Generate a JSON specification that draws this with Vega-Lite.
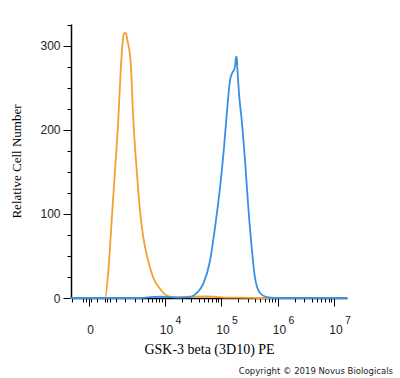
{
  "$schema": "https://vega.github.io/schema/vega-lite/v6.json",
  "autosize": {"type": "none"},
  "padding": {"left": 71, "top": 24, "right": 53, "bottom": 80},
  "width": 276,
  "height": 274,
  "background": "white",
  "title": {
    "text": "Copyright © 2019 Novus Biologicals",
    "orient": "bottom",
    "anchor": "end",
    "frame": "group",
    "dx": 46,
    "offset": 11,
    "font": "DejaVu Sans",
    "fontSize": 8.5,
    "fontWeight": "normal",
    "color": "#222222"
  },
  "config": {
    "view": {"stroke": null},
    "axis": {
      "domainColor": "#000000",
      "tickColor": "#000000",
      "labelColor": "#222222",
      "titleColor": "#000000",
      "grid": false,
      "labelFont": "Liberation Sans",
      "labelFontSize": 12,
      "titleFont": "Liberation Serif",
      "titleFontWeight": "normal"
    }
  },
  "data": {
    "values": [
      {"sample": "control", "pos": 2.327, "count": 0},
      {"sample": "control", "pos": 2.858, "count": 0},
      {"sample": "control", "pos": 2.947, "count": 0},
      {"sample": "control", "pos": 3.005, "count": 32},
      {"sample": "control", "pos": 3.065, "count": 92},
      {"sample": "control", "pos": 3.124, "count": 152},
      {"sample": "control", "pos": 3.182, "count": 212},
      {"sample": "control", "pos": 3.225, "count": 271},
      {"sample": "control", "pos": 3.26, "count": 305},
      {"sample": "control", "pos": 3.283, "count": 315},
      {"sample": "control", "pos": 3.319, "count": 315},
      {"sample": "control", "pos": 3.342, "count": 307},
      {"sample": "control", "pos": 3.402, "count": 280},
      {"sample": "control", "pos": 3.448, "count": 212},
      {"sample": "control", "pos": 3.508, "count": 152},
      {"sample": "control", "pos": 3.566, "count": 104},
      {"sample": "control", "pos": 3.625, "count": 72},
      {"sample": "control", "pos": 3.713, "count": 44},
      {"sample": "control", "pos": 3.802, "count": 24},
      {"sample": "control", "pos": 3.92, "count": 11},
      {"sample": "control", "pos": 4.039, "count": 3},
      {"sample": "control", "pos": 4.186, "count": 1},
      {"sample": "control", "pos": 4.451, "count": 1.5},
      {"sample": "control", "pos": 4.717, "count": 2},
      {"sample": "control", "pos": 4.894, "count": 1.5},
      {"sample": "control", "pos": 5.071, "count": 0.5},
      {"sample": "control", "pos": 5.336, "count": 0.5},
      {"sample": "control", "pos": 5.779, "count": 0},
      {"sample": "control", "pos": 7.23, "count": 0},
      {"sample": "stained", "pos": 2.327, "count": 0},
      {"sample": "stained", "pos": 3.566, "count": 0},
      {"sample": "stained", "pos": 3.743, "count": 1},
      {"sample": "stained", "pos": 3.92, "count": 1.5},
      {"sample": "stained", "pos": 4.097, "count": 1},
      {"sample": "stained", "pos": 4.274, "count": 0.5},
      {"sample": "stained", "pos": 4.451, "count": 1},
      {"sample": "stained", "pos": 4.57, "count": 6},
      {"sample": "stained", "pos": 4.687, "count": 17},
      {"sample": "stained", "pos": 4.805, "count": 44},
      {"sample": "stained", "pos": 4.894, "count": 84},
      {"sample": "stained", "pos": 4.982, "count": 131},
      {"sample": "stained", "pos": 5.053, "count": 179},
      {"sample": "stained", "pos": 5.112, "count": 227},
      {"sample": "stained", "pos": 5.159, "count": 259},
      {"sample": "stained", "pos": 5.2, "count": 268},
      {"sample": "stained", "pos": 5.235, "count": 272},
      {"sample": "stained", "pos": 5.253, "count": 278},
      {"sample": "stained", "pos": 5.265, "count": 287},
      {"sample": "stained", "pos": 5.278, "count": 287},
      {"sample": "stained", "pos": 5.288, "count": 275},
      {"sample": "stained", "pos": 5.324, "count": 239},
      {"sample": "stained", "pos": 5.366, "count": 212},
      {"sample": "stained", "pos": 5.425, "count": 164},
      {"sample": "stained", "pos": 5.483, "count": 108},
      {"sample": "stained", "pos": 5.543, "count": 60},
      {"sample": "stained", "pos": 5.602, "count": 24},
      {"sample": "stained", "pos": 5.69, "count": 6},
      {"sample": "stained", "pos": 5.809, "count": 1},
      {"sample": "stained", "pos": 5.956, "count": 0},
      {"sample": "stained", "pos": 7.23, "count": 0}
    ]
  },
  "resolve": {"axis": {"x": "independent", "y": "independent"}},
  "layer": [
    {
      "mark": {"type": "line", "opacity": 0, "interpolate": "monotone"},
      "encoding": {
        "x": {
          "field": "pos",
          "type": "quantitative",
          "scale": {"domain": [2.345, 7.23], "nice": false, "zero": false},
          "axis": {
            "orient": "bottom",
            "title": null,
            "domain": false,
            "ticks": false,
            "tickSize": 0,
            "values": [4, 5, 6, 7],
            "labelExpr": "'' + round(datum.value)",
            "labelFontSize": 10.5,
            "labelPadding": 17,
            "labelOffset": 13.5,
            "labelOverlap": false,
            "labelFlush": false
          }
        },
        "y": {
          "field": "count",
          "type": "quantitative",
          "scale": {"domain": [0, 326], "nice": false},
          "axis": null
        },
        "detail": {"field": "sample", "type": "nominal"}
      }
    },
    {
      "mark": {"type": "line", "strokeWidth": 1.8, "interpolate": "monotone"},
      "encoding": {
        "x": {
          "field": "pos",
          "type": "quantitative",
          "scale": {"domain": [2.345, 7.23], "nice": false, "zero": false},
          "axis": {
            "orient": "bottom",
            "title": "GSK-3 beta (3D10) PE",
            "titleFontSize": 14,
            "titlePadding": 7,
            "domainWidth": 1.5,
            "tickWidth": 1,
            "values": [2.363, 2.558, 2.611, 2.655, 2.699, 2.805, 2.947, 2.982, 3.035, 3.142, 3.301, 3.477, 3.602, 3.699, 3.778, 3.845, 3.903, 3.954, 4, 4.301, 4.477, 4.602, 4.699, 4.778, 4.845, 4.903, 4.954, 5, 5.301, 5.477, 5.602, 5.699, 5.778, 5.845, 5.903, 5.954, 6, 6.301, 6.477, 6.602, 6.699, 6.778, 6.845, 6.903, 6.954, 7],
            "labelExpr": "abs(datum.value-2.655)<0.001 ? '0' : (datum.value>=3.99 && abs(datum.value-round(datum.value))<0.001 ? '10' : '')",
            "labelPadding": 18,
            "labelOffset": 1.5,
            "labelOverlap": false,
            "labelFlush": false,
            "tickSize": {"condition": {"test": "abs(datum.value-2.655)<0.001 || (datum.value>=3.99 && abs(datum.value-round(datum.value))<0.001)", "value": 8}, "value": 4}
          }
        },
        "y": {
          "field": "count",
          "type": "quantitative",
          "scale": {"domain": [0, 326], "nice": false},
          "axis": {
            "orient": "left",
            "title": "Relative Cell Number",
            "titleFontSize": 13,
            "titlePadding": 16,
            "domainWidth": 1.5,
            "tickWidth": 1,
            "values": [0, 25, 50, 75, 100, 125, 150, 175, 200, 225, 250, 275, 300, 325],
            "labelExpr": "datum.value % 100 == 0 ? datum.label : ''",
            "labelPadding": 3,
            "tickSize": {"condition": {"test": "datum.value % 100 == 0", "value": 8}, "value": 4}
          }
        },
        "color": {
          "field": "sample",
          "type": "nominal",
          "scale": {"domain": ["control", "stained"], "range": ["#F5A033", "#3A8EE6"]},
          "legend": null
        }
      }
    }
  ]
}
